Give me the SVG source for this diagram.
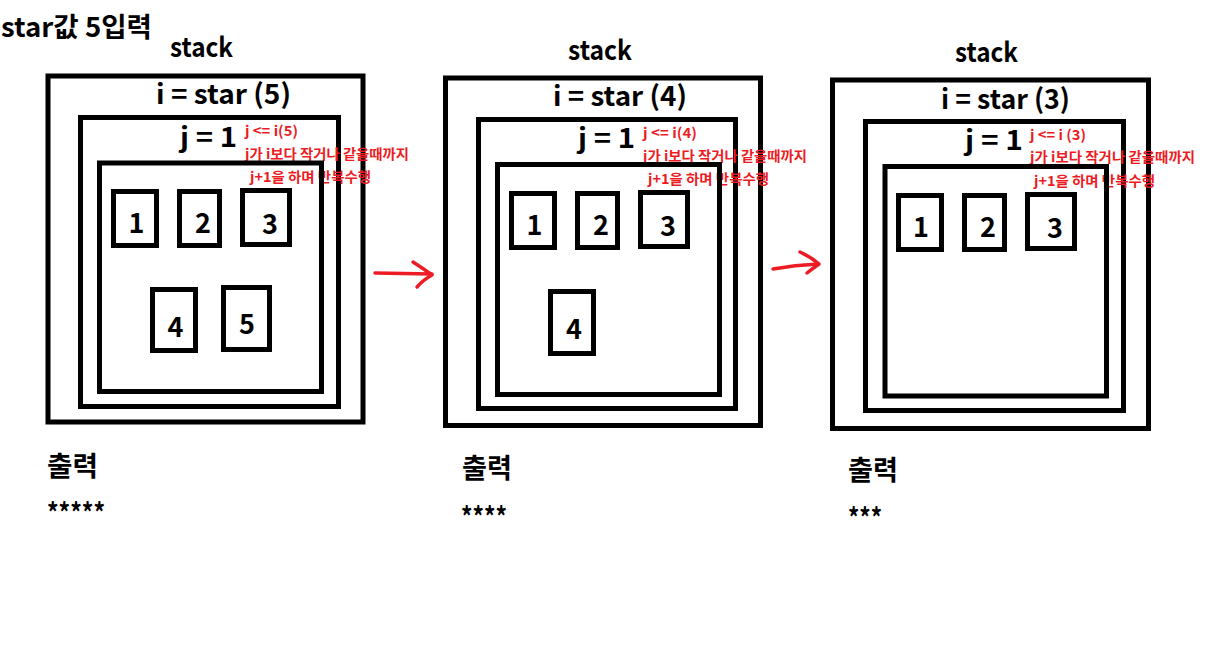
<svg xmlns="http://www.w3.org/2000/svg" width="1229" height="648" viewBox="0 0 1229 648">
<style>
.box{fill:none;stroke:#000;stroke-width:5}
.cell{fill:none;stroke:#000;stroke-width:5}
.t{font-family:"Noto Sans CJK KR","Noto Sans",sans-serif;font-weight:bold;fill:#000}
.h{font-size:27px}
.n{font-size:27px;text-anchor:middle}
.r{font-family:"Noto Sans CJK KR","Noto Sans",sans-serif;font-weight:bold;fill:#ED1C24;font-size:14px}
.out{font-size:27px}
.arr{fill:none;stroke:#ED1C24;stroke-width:3.5;stroke-linecap:round;stroke-linejoin:round}
</style>
<rect width="1229" height="648" fill="#fff"/>
<text class="t h" x="1" y="37" textLength="151" lengthAdjust="spacingAndGlyphs">star값 5입력</text>

<g id="panel1">
  <text class="t h" x="170" y="57" textLength="63" lengthAdjust="spacingAndGlyphs">stack</text>
  <rect class="box" x="48" y="76" width="315" height="346"/>
  <text class="t h" x="156" y="104" textLength="135" lengthAdjust="spacingAndGlyphs">i = star (5)</text>
  <rect class="box" x="80.5" y="117.5" width="258" height="289"/>
  <text class="t h" x="180" y="147" textLength="57" lengthAdjust="spacingAndGlyphs">j = 1</text>
  <text class="r" x="245" y="136" textLength="53" lengthAdjust="spacingAndGlyphs">j &lt;= i(5)</text>
  <text class="r" x="245" y="159" textLength="164" lengthAdjust="spacingAndGlyphs">j가 i보다 작거나 같을때까지</text>
  <text class="r" x="250" y="182" textLength="121" lengthAdjust="spacingAndGlyphs">j+1을 하며 반복수행</text>
  <rect class="box" x="99.5" y="163" width="222" height="228.5"/>
  <g id="p1c1"><rect class="cell" x="113.5" y="191.5" width="43" height="54"/><text class="t n" x="136.5" y="233">1</text></g>
  <g id="p1c2"><rect class="cell" x="179.5" y="191.5" width="40" height="54"/><text class="t n" x="203" y="233">2</text></g>
  <g id="p1c3"><rect class="cell" x="242.5" y="190.5" width="47" height="54"/><text class="t n" x="270" y="234">3</text></g>
  <g id="p1c4"><rect class="cell" x="152.5" y="289.5" width="43" height="61"/><text class="t n" x="175.5" y="337">4</text></g>
  <g id="p1c5"><rect class="cell" x="223.5" y="287.5" width="46" height="62"/><text class="t n" x="247" y="334">5</text></g>
  <text class="t out" x="47" y="476" textLength="51" lengthAdjust="spacingAndGlyphs">출력</text>
  <text class="t out" x="47" y="523" textLength="58" lengthAdjust="spacingAndGlyphs">*****</text>
</g>

<g id="panel2">
  <text class="t h" x="568" y="60" textLength="64" lengthAdjust="spacingAndGlyphs">stack</text>
  <rect class="box" x="445.5" y="78" width="315" height="347.5"/>
  <text class="t h" x="553" y="106" textLength="134" lengthAdjust="spacingAndGlyphs">i = star (4)</text>
  <rect class="box" x="478.5" y="119.5" width="257" height="289"/>
  <text class="t h" x="578" y="148" textLength="57" lengthAdjust="spacingAndGlyphs">j = 1</text>
  <text class="r" x="643" y="138" textLength="54" lengthAdjust="spacingAndGlyphs">j &lt;= i(4)</text>
  <text class="r" x="643" y="161" textLength="164" lengthAdjust="spacingAndGlyphs">j가 i보다 작거나 같을때까지</text>
  <text class="r" x="648" y="184" textLength="121" lengthAdjust="spacingAndGlyphs">j+1을 하며 반복수행</text>
  <rect class="box" x="497.5" y="164.5" width="222" height="230"/>
  <g id="p2c1"><rect class="cell" x="511.5" y="193.5" width="43" height="54"/><text class="t n" x="534.5" y="235">1</text></g>
  <g id="p2c2"><rect class="cell" x="577.5" y="193.5" width="40" height="54"/><text class="t n" x="601" y="235">2</text></g>
  <g id="p2c3"><rect class="cell" x="640.5" y="192.5" width="47" height="54"/><text class="t n" x="668" y="236">3</text></g>
  <g id="p2c4"><rect class="cell" x="550.5" y="291.5" width="43" height="62"/><text class="t n" x="574" y="339">4</text></g>
  <text class="t out" x="462" y="478" textLength="50" lengthAdjust="spacingAndGlyphs">출력</text>
  <text class="t out" x="461" y="527" textLength="46" lengthAdjust="spacingAndGlyphs">****</text>
</g>

<g id="panel3">
  <text class="t h" x="955" y="62" textLength="63" lengthAdjust="spacingAndGlyphs">stack</text>
  <rect class="box" x="832.5" y="80" width="316" height="348.5"/>
  <text class="t h" x="941" y="109" textLength="129" lengthAdjust="spacingAndGlyphs">i = star (3)</text>
  <rect class="box" x="865.5" y="121.5" width="258" height="289"/>
  <text class="t h" x="965" y="150" textLength="58" lengthAdjust="spacingAndGlyphs">j = 1</text>
  <text class="r" x="1030" y="140" textLength="56" lengthAdjust="spacingAndGlyphs">j &lt;= i (3)</text>
  <text class="r" x="1030" y="162" textLength="165" lengthAdjust="spacingAndGlyphs">j가 i보다 작거나 같을때까지</text>
  <text class="r" x="1034" y="186" textLength="121" lengthAdjust="spacingAndGlyphs">j+1을 하며 반복수행</text>
  <rect class="box" x="885" y="166.5" width="221.5" height="229.5"/>
  <g id="p3c1"><rect class="cell" x="898.5" y="195.5" width="43" height="54"/><text class="t n" x="921" y="237">1</text></g>
  <g id="p3c2"><rect class="cell" x="964.5" y="195.5" width="40" height="54"/><text class="t n" x="988" y="237">2</text></g>
  <g id="p3c3"><rect class="cell" x="1027.5" y="194.5" width="47" height="54"/><text class="t n" x="1055" y="238">3</text></g>
  <text class="t out" x="848" y="480" textLength="50" lengthAdjust="spacingAndGlyphs">출력</text>
  <text class="t out" x="848" y="528" textLength="34" lengthAdjust="spacingAndGlyphs">***</text>
</g>

<g id="connectors">
  <path class="arr" d="M375,273 L432,274"/>
  <path class="arr" d="M413,262 Q424,269 432,275 Q423,280 417,287"/>
  <path class="arr" d="M773,269 Q795,265 818,264"/>
  <path class="arr" d="M800,252 Q811,257 819,264 Q812,269 807,273"/>
</g>
</svg>
